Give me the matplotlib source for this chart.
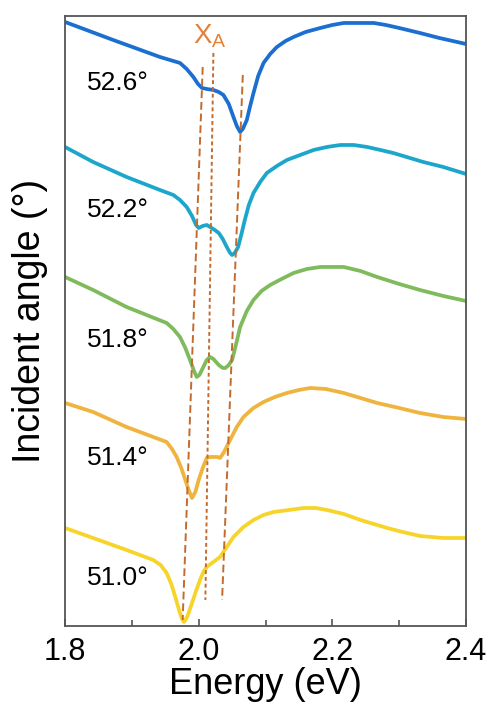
import numpy as np
import matplotlib.pyplot as plt
from matplotlib.ticker import MultipleLocator

plt.rcParams['font.family'] = ['Liberation Sans', 'DejaVu Sans']
plt.rcParams['mathtext.fontset'] = 'custom'
plt.rcParams['mathtext.rm'] = 'Liberation Sans'

# spectra (energy in eV, offset signal in arbitrary units)
e_526 = [1.8, 1.872, 1.942, 1.972, 1.982, 1.992, 1.999, 2.005, 2.012, 2.022, 2.030, 2.037, 2.045,
         2.052, 2.057, 2.062, 2.066, 2.072, 2.077, 2.082, 2.089, 2.097, 2.107, 2.117, 2.130, 2.142,
         2.160, 2.182, 2.200, 2.217, 2.240, 2.262, 2.280, 2.300, 2.331, 2.360, 2.4]
r_526 = [604, 586, 569, 563, 557, 549, 542, 538, 537, 536, 534, 531, 522,
         509, 500, 494, 497, 506, 520, 533, 550, 563, 572, 579, 585, 589,
         594, 598, 601, 603, 603, 603, 601, 598, 593, 588, 582]

e_522 = [1.8, 1.842, 1.892, 1.942, 1.962, 1.972, 1.982, 1.990, 1.996, 2.000, 2.006, 2.012, 2.017,
         2.024, 2.030, 2.036, 2.042, 2.047, 2.050, 2.054, 2.059, 2.064, 2.069, 2.075, 2.082, 2.092,
         2.102, 2.117, 2.132, 2.152, 2.172, 2.192, 2.212, 2.232, 2.252, 2.272, 2.291, 2.311, 2.336,
         2.366, 2.4]
r_522 = [479, 464, 449, 436, 431, 426, 419, 410, 401, 398, 400, 401, 399,
         396, 393, 387, 379, 373, 371, 373, 379, 392, 406, 421, 433, 444,
         453, 460, 466, 471, 476, 479, 481, 481, 479, 476, 473, 469, 464,
         459, 452]

e_518 = [1.8, 1.842, 1.892, 1.952, 1.962, 1.972, 1.980, 1.987, 1.993, 1.997, 2.001, 2.007, 2.012,
         2.017, 2.022, 2.030, 2.036, 2.040, 2.045, 2.050, 2.056, 2.062, 2.072, 2.082, 2.094, 2.107,
         2.124, 2.142, 2.162, 2.182, 2.200, 2.217, 2.242, 2.267, 2.300, 2.331, 2.366, 2.4]
r_518 = [349, 336, 319, 303, 297, 289, 278, 266, 255, 249, 251, 259, 266,
         269, 267, 261, 258, 258, 261, 266, 282, 299, 315, 326, 335, 341,
         347, 353, 357, 359, 359, 359, 355, 349, 342, 336, 330, 325]

e_514 = [1.8, 1.842, 1.892, 1.952, 1.960, 1.967, 1.974, 1.980, 1.985, 1.990, 1.995, 2.000, 2.006,
         2.012, 2.017, 2.022, 2.028, 2.032, 2.038, 2.047, 2.057, 2.067, 2.082, 2.097, 2.114, 2.132,
         2.150, 2.167, 2.190, 2.217, 2.242, 2.267, 2.300, 2.331, 2.366, 2.4]
r_514 = [223, 214, 199, 184, 177, 169, 158, 146, 136, 128, 134, 146, 158,
         168, 169, 169, 169, 168, 174, 186, 199, 209, 218, 224, 229, 233,
         236, 238, 237, 233, 228, 223, 218, 213, 209, 207]

e_510 = [1.8, 1.842, 1.892, 1.932, 1.943, 1.952, 1.959, 1.965, 1.971, 1.975, 1.978, 1.982, 1.986,
         1.990, 1.996, 2.002, 2.007, 2.012, 2.022, 2.032, 2.042, 2.052, 2.067, 2.082, 2.097, 2.112,
         2.135, 2.157, 2.175, 2.192, 2.217, 2.242, 2.262, 2.282, 2.305, 2.331, 2.366, 2.4]
r_510 = [98, 88, 76, 66, 61, 53, 42, 29, 15, 7, 4, 8, 15,
         23, 35, 46, 54, 59, 64, 69, 79, 89, 99, 106, 111, 114,
         116, 118, 118, 116, 112, 106, 102, 98, 94, 90, 88, 88]

angles = ['52.6°', '52.2°', '51.8°', '51.4°', '51.0°']
label_y = [543, 416, 286, 168, 48]
colors = ['#1a6fd0', '#1ca6cc', '#7fba5c', '#efb43e', '#f7d42a']

# X_A guide lines (energy at top, energy at bottom, signal at top, signal at bottom)
guide_e = [(2.006, 1.976), (2.022, 2.010), (2.066, 2.035)]
guide_r = [(559, 6), (573, 26), (551, 26)]
guide_dash = [(4, 2), (2, 1.5), (4, 2)]

fig = plt.figure(figsize=(4.89, 7.07), dpi=100)
ax = fig.add_axes([0.133, 0.1146, 0.82, 0.8628])

series = [(e_526, r_526), (e_522, r_522), (e_518, r_518), (e_514, r_514), (e_510, r_510)]
for (e, r), c, lab, ly in zip(series, colors, angles, label_y):
    ax.plot(e, r, color=c, lw=2.7, solid_capstyle='round', solid_joinstyle='round')
    ax.text(1.833, ly, lab, fontsize=19, va='center', ha='left')

for (e0, e1), (r0, r1), d in zip(guide_e, guide_r, guide_dash):
    ax.plot([e0, e1], [r0, r1], color='#c46a2c', lw=1.4, dashes=d)

ax.text(2.016, 590, r'X$_{\mathrm{A}}$', color='#e5803a', fontsize=20, ha='center', va='center')

ax.set_xlim(1.8, 2.4)
ax.set_ylim(0, 610)
ax.xaxis.set_minor_locator(MultipleLocator(0.1))
ax.set_xticks([1.8, 2.0, 2.2, 2.4])
ax.set_xticklabels(['1.8', '2.0', '2.2', '2.4'])
ax.set_yticks([])
ax.tick_params(axis='x', which='both', direction='in', colors='#555555', labelcolor='black',
               labelsize=22, pad=8)
ax.tick_params(axis='x', which='major', length=5, width=1.2)
ax.tick_params(axis='x', which='minor', length=4, width=1.2)
for s in ax.spines.values():
    s.set_color('#555555')
    s.set_linewidth(1.3)

ax.set_xlabel('Energy (eV)', fontsize=26, labelpad=0)
ax.set_ylabel('Incident angle (°)', fontsize=27, labelpad=12)

fig.savefig('out.png', dpi=100)
